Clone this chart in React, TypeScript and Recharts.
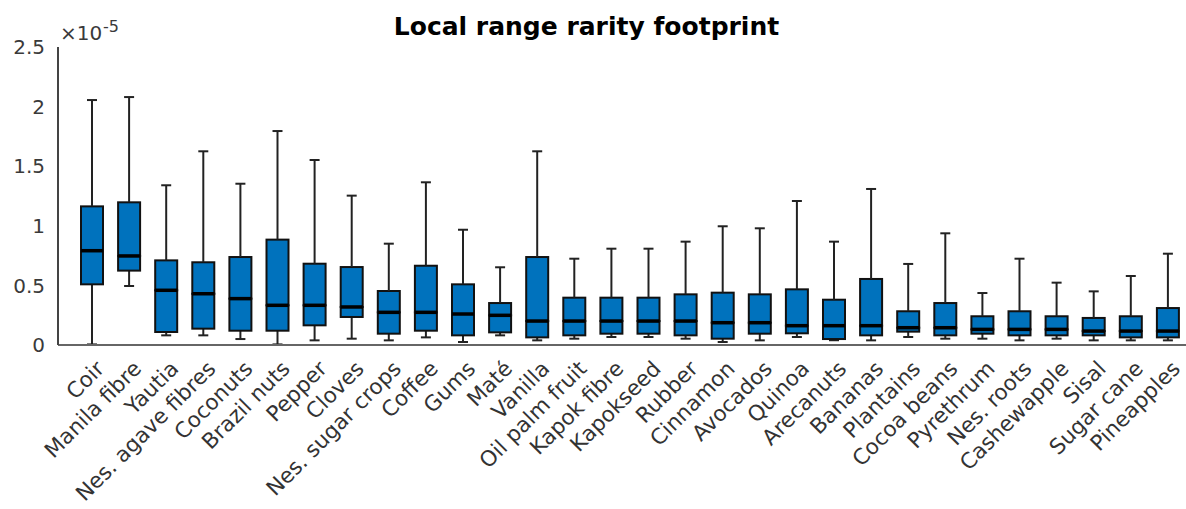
import React from "react";
import { ComposedChart, Bar, XAxis, YAxis } from "recharts";

// values are in units of 1e-5
const CROPS = [
  "Coir", "Manila fibre", "Yautia", "Nes. agave fibres", "Coconuts", "Brazil nuts",
  "Pepper", "Cloves", "Nes. sugar crops", "Coffee", "Gums", "Maté", "Vanilla",
  "Oil palm fruit", "Kapok fibre", "Kapokseed", "Rubber", "Cinnamon", "Avocados",
  "Quinoa", "Arecanuts", "Bananas", "Plantains", "Cocoa beans", "Pyrethrum",
  "Nes. roots", "Cashewapple", "Sisal", "Sugar cane", "Pineapples",
];
const LOW = [
  0.005, 0.495, 0.081, 0.081, 0.05, 0.005, 0.039, 0.053, 0.039, 0.064, 0.025, 0.081, 0.039,
  0.053, 0.067, 0.067, 0.053, 0.025, 0.039, 0.067, 0.04, 0.039, 0.067, 0.053, 0.053,
  0.039, 0.053, 0.039, 0.039, 0.039,
];
const Q1 = [
  0.509, 0.624, 0.109, 0.137, 0.12, 0.12, 0.165, 0.235, 0.095, 0.12, 0.081, 0.106, 0.064,
  0.081, 0.095, 0.095, 0.081, 0.053, 0.095, 0.098, 0.05, 0.081, 0.112, 0.081, 0.095,
  0.081, 0.081, 0.081, 0.064, 0.064,
];
const MEDIAN = [
  0.791, 0.747, 0.459, 0.43, 0.389, 0.333, 0.333, 0.319, 0.274, 0.274, 0.26, 0.249, 0.201,
  0.201, 0.201, 0.201, 0.201, 0.187, 0.187, 0.162, 0.162, 0.162, 0.145, 0.145, 0.131,
  0.131, 0.131, 0.117, 0.117, 0.117,
];
const Q3 = [
  1.163, 1.197, 0.71, 0.694, 0.738, 0.884, 0.682, 0.654, 0.453, 0.665, 0.509, 0.352, 0.738,
  0.397, 0.397, 0.397, 0.425, 0.439, 0.425, 0.467, 0.38, 0.554, 0.283, 0.352, 0.241,
  0.283, 0.241, 0.227, 0.241, 0.31,
];
const HIGH = [
  2.055, 2.08, 1.34, 1.625, 1.353, 1.795, 1.552, 1.253, 0.85, 1.365, 0.967, 0.652, 1.625,
  0.724, 0.808, 0.808, 0.867, 0.996, 0.979, 1.208, 0.867, 1.309, 0.68, 0.937, 0.436,
  0.724, 0.523, 0.45, 0.579, 0.766,
];
const MAJOR_TICKS = [0, 0.5, 1, 1.5, 2, 2.5];
const MINOR_TICKS = [
  0, 0.1, 0.2, 0.3, 0.4, 0.5, 0.6, 0.7, 0.8, 0.9, 1, 1.1, 1.2, 1.3, 1.4, 1.5,
  1.6, 1.7, 1.8, 1.9, 2, 2.1, 2.2, 2.3, 2.4, 2.5,
];

// stacked segments: hidden base, lower whisker, lower box, upper box, upper whisker
const rows = CROPS.map((name, i) => ({
  name,
  base: LOW[i],
  lowWhisker: Q1[i] - LOW[i],
  lowBox: MEDIAN[i] - Q1[i],
  highBox: Q3[i] - MEDIAN[i],
  highWhisker: HIGH[i] - Q3[i],
}));

const BLUE = "#0072BD";
const EDGE = "#111";
const WHISK = "#222";
const FONT = "'DejaVu Sans', sans-serif";

const Empty = () => <g />;

const makeWhisker = (top: boolean) => (p: any) => {
  const cx = p.x + p.width / 2;
  const capY = top ? p.y : p.y + p.height;
  return (
    <g>
      <line x1={cx} x2={cx} y1={p.y} y2={p.y + p.height} stroke={WHISK} strokeWidth={2} />
      <line x1={cx - 5} x2={cx + 5} y1={capY} y2={capY} stroke={WHISK} strokeWidth={2} />
    </g>
  );
};

const LowBox = (p: any) => (
  <rect x={p.x} y={p.y} width={p.width} height={p.height} fill={BLUE} stroke={EDGE} strokeWidth={2} />
);

const HighBox = (p: any) => (
  <g>
    <rect x={p.x} y={p.y} width={p.width} height={p.height} fill={BLUE} stroke={EDGE} strokeWidth={2} />
    <line x1={p.x} x2={p.x + p.width} y1={p.y + p.height} y2={p.y + p.height} stroke="#000" strokeWidth={3.5} />
  </g>
);

const CropTick = ({ x, y, payload }: any) => (
  <g transform={`translate(${x + 14},${y + 25})`}>
    <text textAnchor="end" transform="rotate(-45)" fill="#333" fontSize={21.5} fontFamily={FONT}>
      {payload.value}
    </text>
  </g>
);

export default function App() {
  return (
    <div style={{ position: "absolute", left: 0, top: 0, width: 1186, height: 509, background: "#fff" }}>
      <ComposedChart
        width={1186}
        height={509}
        data={rows}
        margin={{ top: 47, right: 0, bottom: 0, left: 0 }}
        barCategoryGap={0}
      >
        <XAxis
          dataKey="name"
          interval={0}
          height={164}
          padding={{ left: 15, right: 0 }}
          tickLine={false}
          tickSize={0}
          tickMargin={0}
          axisLine={{ stroke: "#666", strokeWidth: 2 }}
          tick={<CropTick />}
        />
        <YAxis
          yAxisId="main"
          width={58}
          domain={[0, 2.5]}
          ticks={MAJOR_TICKS}
          allowDataOverflow
          tickLine={false}
          tickSize={0}
          tickMargin={13}
          axisLine={{ stroke: "#444", strokeWidth: 2 }}
          tick={{ fill: "#3a3a3a", fontSize: 20, fontFamily: FONT }}
        />
        <YAxis
          yAxisId="major"
          mirror
          domain={[0, 2.5]}
          ticks={MAJOR_TICKS}
          tick={false}
          axisLine={false}
          tickSize={7}
          tickLine={{ stroke: "#444", strokeWidth: 1.5 }}
        />
        <YAxis
          yAxisId="minor"
          mirror
          domain={[0, 2.5]}
          ticks={MINOR_TICKS}
          tick={false}
          axisLine={false}
          tickSize={4}
          tickLine={{ stroke: "#444", strokeWidth: 1.5 }}
        />
        <Bar yAxisId="main" dataKey="base" stackId="b" barSize={22} shape={<Empty />} isAnimationActive={false} />
        <Bar yAxisId="main" dataKey="lowWhisker" stackId="b" barSize={22} shape={makeWhisker(false)} isAnimationActive={false} />
        <Bar yAxisId="main" dataKey="lowBox" stackId="b" barSize={22} shape={LowBox} isAnimationActive={false} />
        <Bar yAxisId="main" dataKey="highBox" stackId="b" barSize={22} shape={HighBox} isAnimationActive={false} />
        <Bar yAxisId="main" dataKey="highWhisker" stackId="b" barSize={22} shape={makeWhisker(true)} isAnimationActive={false} />
      </ComposedChart>
      <svg width={1186} height={509} style={{ position: "absolute", left: 0, top: 0, pointerEvents: "none" }}>
        <text x={586.5} y={35} textAnchor="middle" fontSize={25} fontWeight="bold" fontFamily={FONT} fill="#000">
          Local range rarity footprint
        </text>
        <text x={60} y={40} fontSize={20} fontFamily={FONT} fill="#3a3a3a">
          ×10
        </text>
        <text x={103} y={32} fontSize={16} fontFamily={FONT} fill="#3a3a3a">
          -5
        </text>
      </svg>
    </div>
  );
}
